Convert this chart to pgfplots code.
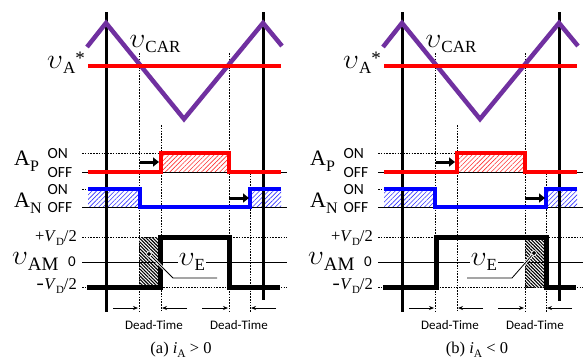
\RequirePackage{fix-cm}
\documentclass[border=0pt]{standalone}
\usepackage{pgfplots}
\pgfplotsset{compat=1.18}
\usepackage{fontspec}
\setmainfont{Liberation Serif}
\newfontfamily\calib{Carlito}
\usetikzlibrary{patterns.meta,arrows.meta}
\definecolor{pur}{RGB}{112,48,160}
\newcommand{\vv}{{\fontsize{28}{28}\selectfont$\upsilon$}}
\newcommand{\fs}[1]{\fontsize{#1}{#1}\selectfont}
\tikzset{
  dsh/.style={black,line width=0.6pt,dash pattern=on 1.6pt off 1.2pt},
  thin/.style={black,line width=0.8pt},
  vert/.style={black,line width=3pt},
  tri/.style={pur,line width=4.5pt,line join=miter},
  refl/.style={red,line width=3.5pt},
  sigp/.style={red,line width=3.3pt,line join=miter},
  sign/.style={blue,line width=3.3pt,line join=miter},
  sigam/.style={black,line width=5pt,line join=miter},
  hr/.style={draw=none,pattern={Lines[angle=45,distance=3.2pt,line width=0.6pt]},pattern color=red!80},
  hb/.style={draw=none,pattern={Lines[angle=45,distance=3.2pt,line width=0.6pt]},pattern color=blue!80},
  hk/.style={draw=none,pattern={Lines[angle=-45,distance=2.4pt,line width=1.1pt]},pattern color=black},
  bigarr/.style={black,line width=3pt,-{Triangle[length=6pt,width=9pt]}},
  dtarr/.style={black,line width=0.8pt,-{Stealth[length=5pt,width=4pt]}},
}
\begin{document}
\begin{tikzpicture}
\begin{axis}[at={(0,0)},anchor=south west,
  scale only axis,width=585pt,height=360pt,
  xmin=0,xmax=585,ymin=0,ymax=360,y dir=reverse,
  hide axis,clip=false]
% ---------- hatches ----------
\addplot[hr] coordinates {(161,153)(229,153)(229,172)(161,172)(161,153)};
\addplot[hb] coordinates {(88,189)(140,189)(140,207)(88,207)(88,189)};
\addplot[hb] coordinates {(250,189)(281,189)(281,207)(250,207)(250,189)};
\addplot[hk] coordinates {(139,237)(158,237)(158,287)(139,287)(139,237)};
\addplot[hr] coordinates {(457,153)(525,153)(525,172)(457,172)(457,153)};
\addplot[hb] coordinates {(384,189)(435,189)(435,207)(384,207)(384,189)};
\addplot[hb] coordinates {(546,189)(577,189)(577,207)(546,207)(546,189)};
\addplot[hk] coordinates {(525,237)(544,237)(544,287)(525,287)(525,237)};
% ---------- dashed verticals ----------
\addplot[dsh] coordinates {(139,53)(139,312)};
\addplot[dsh] coordinates {(161,125)(161,312)};
\addplot[dsh] coordinates {(229,53)(229,312)};
\addplot[dsh] coordinates {(250,173)(250,312)};
\addplot[dsh] coordinates {(435,53)(435,312)};
\addplot[dsh] coordinates {(457,125)(457,312)};
\addplot[dsh] coordinates {(525,53)(525,312)};
\addplot[dsh] coordinates {(546,173)(546,312)};
% ---------- horizontal guides ----------
\addplot[dsh] coordinates {(82,153)(161,153)};
\addplot[thin] coordinates {(82,172)(287,172)};
\addplot[dsh] coordinates {(82,189)(88,189)};
\addplot[thin] coordinates {(82,207)(287,207)};
\addplot[dsh] coordinates {(82,237)(287,237)};
\addplot[thin] coordinates {(82,262)(287,262)};
\addplot[dsh] coordinates {(82,287)(287,287)};
\addplot[dsh] coordinates {(378,153)(457,153)};
\addplot[thin] coordinates {(378,172)(583,172)};
\addplot[dsh] coordinates {(378,189)(384,189)};
\addplot[thin] coordinates {(378,207)(583,207)};
\addplot[dsh] coordinates {(378,237)(583,237)};
\addplot[thin] coordinates {(378,262)(583,262)};
\addplot[dsh] coordinates {(378,287)(583,287)};
% ---------- black verticals ----------
\addplot[vert] coordinates {(106,12)(106,312)};
\addplot[vert] coordinates {(263,12)(263,300)};
\addplot[vert] coordinates {(402,12)(402,312)};
\addplot[vert] coordinates {(559,12)(559,301)};
% ---------- carrier and reference ----------
\addplot[tri] coordinates {(87,47)(106,23)(184,119)(263,23)(282,46)};
\addplot[refl] coordinates {(88,66)(281,66)};
\addplot[tri] coordinates {(383,47)(402,23)(480,119)(559,23)(578,46)};
\addplot[refl] coordinates {(384,66)(577,66)};
% ---------- gate signals ----------
\addplot[sigp] coordinates {(88,172)(161,172)(161,153)(229,153)(229,172)(281,172)};
\addplot[sign] coordinates {(88,189)(140,189)(140,207)(250,207)(250,189)(281,189)};
\addplot[sigp] coordinates {(384,172)(457,172)(457,153)(525,153)(525,172)(577,172)};
\addplot[sign] coordinates {(384,189)(435,189)(435,207)(546,207)(546,189)(577,189)};
\addplot[bigarr] coordinates {(140,162)(159,162)};
\addplot[bigarr] coordinates {(229,198)(249,198)};
\addplot[bigarr] coordinates {(436,162)(455,162)};
\addplot[bigarr] coordinates {(525,198)(545,198)};
% ---------- output voltage ----------
\addplot[sigam] coordinates {(87,287)(160,287)(160,237)(229,237)(229,287)(280,287)};
\addplot[sigam] coordinates {(383,287)(436,287)(436,237)(546,237)(546,287)(576,287)};
% leaders
\addplot[white,line width=2.6pt] coordinates {(149,254)(173,278)(217,278)};
\addplot[black,line width=0.8pt] coordinates {(149,254)(173,278)(217,278)};
\addplot[white,line width=2.6pt] coordinates {(534,253)(512,278)(467,278)};
\addplot[black,line width=0.8pt] coordinates {(534,253)(512,278)(467,278)};
\addplot[only marks,mark=*,mark size=2.4pt,mark options={fill=black,draw=white,line width=0.8pt}] coordinates {(149,254)(534,253)};
% ---------- dead-time arrows ----------
\addplot[dtarr] coordinates {(113,308)(138,308)};
\addplot[dtarr] coordinates {(187,308)(162,308)};
\addplot[dtarr] coordinates {(202,308)(228,308)};
\addplot[dtarr] coordinates {(276,308)(251,308)};
\addplot[dtarr] coordinates {(409,308)(434,308)};
\addplot[dtarr] coordinates {(483,308)(458,308)};
\addplot[dtarr] coordinates {(498,308)(524,308)};
\addplot[dtarr] coordinates {(572,308)(547,308)};
% ---------- labels ----------
\pgfplotsinvokeforeach{0,296}{
  \node[anchor=east,inner sep=0pt] at (85+#1,63) {\vv\fs{17}\raisebox{-5pt}{A}\raisebox{4pt}{\fs{19}*}};
  \node[inner sep=0pt] at (155+#1,44) {\vv\fs{17}\raisebox{-5pt}{CAR}};
  \node[anchor=west,inner sep=0pt] at (14+#1,161) {\fs{22}A\raisebox{-6pt}{\fs{16}P}};
  \node[anchor=west,inner sep=0pt] at (14+#1,203) {\fs{22}A\raisebox{-6pt}{\fs{16}N}};
  \node[anchor=west,inner sep=0pt] at (47.5+#1,154) {\calib\fs{15.5}ON};
  \node[anchor=west,inner sep=0pt] at (47.5+#1,172.5) {\calib\fs{15.5}OFF};
  \node[anchor=west,inner sep=0pt] at (47.5+#1,190) {\calib\fs{15.5}ON};
  \node[anchor=west,inner sep=0pt] at (47.5+#1,208) {\calib\fs{15.5}OFF};
  \node[anchor=east,inner sep=0pt] at (77+#1,238) {\fs{16.5}+\textit{V}\raisebox{-3.5pt}{\fs{11}D}/2};
  \node[anchor=east,inner sep=0pt] at (77+#1,286) {\fs{16.5}{\calib\bfseries\textendash}\textit{V}\raisebox{-3.5pt}{\fs{11}D}/2};
  \node[anchor=west,inner sep=0pt] at (12+#1,261) {\vv\fs{19}\raisebox{-6pt}{AM}};
  \node[inner sep=0pt] at (72+#1,262) {\calib\fs{15}0};
}
\node[fill=white,inner sep=0.5pt] at (192,262) {\vv\fs{17}\raisebox{-5pt}{E}};
\node[fill=white,inner sep=0.5pt] at (484,262) {\vv\fs{17}\raisebox{-5pt}{E}};
\node at (154,325) {\calib\fs{13}Dead-Time};
\node at (239,325) {\calib\fs{13}Dead-Time};
\node at (450,325) {\calib\fs{13}Dead-Time};
\node at (535,325) {\calib\fs{13}Dead-Time};
\node at (181,350) {\fs{16.5}(a) \textit{i}\raisebox{-3.5pt}{\fs{11.5}A} {>} 0};
\node at (477,350) {\fs{16.5}(b) \textit{i}\raisebox{-3.5pt}{\fs{11.5}A} {<} 0};
\end{axis}
\pgfresetboundingbox
\path (0,0) rectangle (585pt,360pt);
\end{tikzpicture}
\end{document}
